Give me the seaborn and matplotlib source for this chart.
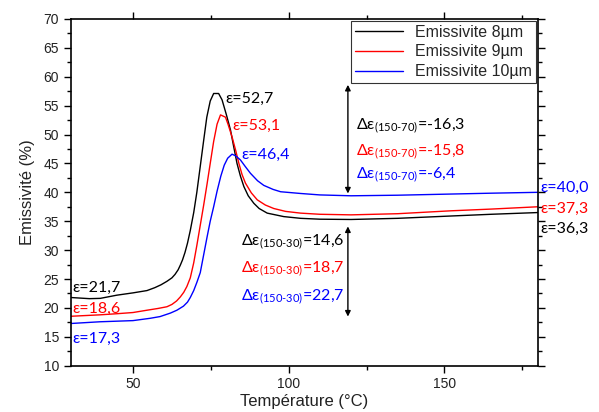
import pandas as pd
import matplotlib
matplotlib.use("Agg")
import matplotlib.pyplot as plt
import seaborn as sns
from matplotlib.ticker import MultipleLocator

# données
t_8 = [30, 33, 36, 39.5, 44.8, 50, 54.5, 57, 59, 60.9, 62.5, 63.5, 64.5, 65.2, 65.9, 66.7,
       67.5, 68.4, 69.5, 70.5, 71.6, 72.7, 73.7, 74.8, 75.9, 77.5, 78.6, 80, 81.3, 82.3,
       83.4, 84.5, 85.6, 87, 88.8, 90.5, 93.1, 98.4, 103.8, 110, 120, 135, 152, 165, 180]
e_8 = [21.8, 21.7, 21.6, 21.65, 22.2, 22.6, 23.0, 23.5, 24.0, 24.6, 25.2, 25.8, 26.6, 27.4, 28.3, 29.6,
       31.2, 33.4, 36.5, 40.0, 44.5, 49.0, 53.0, 55.8, 57.1, 57.1, 56.0, 53.4, 50.8, 48.0,
       45.0, 42.8, 41.0, 39.4, 38.1, 37.2, 36.4, 35.8, 35.5, 35.35, 35.3, 35.5, 35.9, 36.2, 36.5]

t_9 = [30, 39.4, 45, 50, 54.5, 58, 60.9, 62.5, 64, 65.2, 66.3, 67.3, 68.4, 69.5, 70.5,
       71.6, 72.7, 73.8, 74.8, 75.9, 77, 78.1, 79.7, 80.5, 81.8, 83, 84, 85, 86.1, 88, 89.9,
       92.5, 95.2, 99, 103.8, 110, 120, 135, 152, 165, 180]
e_9 = [18.55, 18.8, 19.0, 19.2, 19.6, 19.9, 20.2, 20.6, 21.2, 21.9, 22.7, 23.7, 25.2, 27.8, 30.8,
       34.3, 37.8, 41.5, 45.0, 48.8, 51.8, 53.4, 53.0, 51.8, 49.6, 47.2, 45.0, 43.1, 41.6, 39.9, 38.7,
       37.8, 37.2, 36.7, 36.4, 36.2, 36.1, 36.3, 36.8, 37.1, 37.5]

t_10 = [30, 39.4, 50, 55.5, 58.7, 62, 64.1, 66.2, 67.5, 68.4, 69.5, 70.5, 71.6, 72.7, 73.8,
        74.8, 75.9, 77, 78.2, 79.3, 80.4, 81.8, 83, 84.5, 86, 87.7, 90, 92, 95, 97.4,
        103.8, 110, 120, 135, 152, 165, 180]
e_10 = [17.3, 17.6, 17.8, 18.2, 18.5, 19.1, 19.6, 20.3, 21.0, 21.8, 23.0, 24.4, 26.1, 29.2, 32.3,
        35.0, 37.5, 40.2, 42.8, 44.7, 45.9, 46.6, 46.3, 45.6, 44.5, 43.3, 42.0, 41.2, 40.5, 40.1,
        39.8, 39.55, 39.4, 39.5, 39.7, 39.85, 40.0]

series = ["Emissivite 8µm", "Emissivite 9µm", "Emissivite 10µm"]
colors = ["black", "#ff0000", "#0000ff"]

# étiquettes epsilon
eps_labels = ["ε=52,7", "ε=53,1", "ε=46,4", "ε=21,7", "ε=18,6", "ε=17,3", "ε=40,0", "ε=37,3", "ε=36,3"]
eps_x = [79.8, 81.8, 84.7, 30.4, 30.4, 30.4, 180.8, 180.8, 180.8]
eps_y = [55.4, 50.8, 45.7, 22.8, 19.1, 14.0, 40.1, 36.4, 32.9]
eps_col = [0, 1, 2, 0, 1, 2, 2, 1, 0]

delta_sub = ["(150-70)", "(150-70)", "(150-70)", "(150-30)", "(150-30)", "(150-30)"]
delta_val = ["=-16,3", "=-15,8", "=-6,4", "=14,6", "=18,7", "=22,7"]
delta_x = [121.5, 121.5, 121.5, 84.6, 84.6, 84.6]
delta_y = [50.9, 46.5, 42.5, 30.9, 26.3, 21.4]
delta_col = [0, 1, 2, 0, 1, 2]

df = pd.concat([
    pd.DataFrame({"T": t_8, "E": e_8, "s": series[0]}),
    pd.DataFrame({"T": t_9, "E": e_9, "s": series[1]}),
    pd.DataFrame({"T": t_10, "E": e_10, "s": series[2]}),
])

sns.set_style("ticks")
plt.rcParams["font.family"] = ["Liberation Sans", "DejaVu Sans"]
plt.rcParams["mathtext.fontset"] = "custom"
plt.rcParams["mathtext.rm"] = "Lato"
plt.rcParams["mathtext.it"] = "Lato"

fig = plt.figure(figsize=(5.99, 4.12), dpi=100)
ax = fig.add_axes([0.118, 0.1124, 0.78, 0.8416])

sns.lineplot(data=df, x="T", y="E", hue="s", palette=colors, sort=False,
             estimator=None, linewidth=1, ax=ax)

ax.set_xlim(30, 180)
ax.set_ylim(10, 70)
ax.xaxis.set_major_locator(MultipleLocator(50))
ax.xaxis.set_minor_locator(MultipleLocator(25))
ax.yaxis.set_major_locator(MultipleLocator(5))
ax.yaxis.set_minor_locator(MultipleLocator(2.5))
ax.tick_params(which="both", direction="out", top=True, right=True, labelsize=10,
               width=1, colors="black", labelcolor="#222222")
ax.tick_params(which="major", length=5)
ax.tick_params(which="minor", length=3)
for sp in ax.spines.values():
    sp.set_linewidth(1.2)
    sp.set_color("black")

ax.set_xlabel("Température (°C)", fontsize=12, labelpad=2, color="#222222")
ax.set_ylabel("Emissivité (%)", fontsize=12, labelpad=6, color="#222222")

leg = ax.legend(loc="upper right", fontsize=11.5, frameon=True, fancybox=False,
                edgecolor="black", borderaxespad=0.1, handlelength=3.0,
                labelspacing=0.3, borderpad=0.25)
leg.get_frame().set_linewidth(0.8)

fam = ["Lato", "DejaVu Sans"]
for lab, x, y, c in zip(eps_labels, eps_x, eps_y, eps_col):
    ax.text(x, y, lab, color=colors[c], fontsize=11.5, family=fam, va="baseline",
            ha="left", clip_on=False)

for sub, val, x, y, c in zip(delta_sub, delta_val, delta_x, delta_y, delta_col):
    ax.text(x, y, "Δε$_{\\text{" + sub + "}}$" + val, color=colors[c], fontsize=11.5,
            family=fam, va="baseline", ha="left")

arrow = dict(arrowstyle="<|-|>", color="black", lw=1, mutation_scale=8, shrinkA=0, shrinkB=0)
ax.annotate("", xy=(119, 58.6), xytext=(119, 39.8), arrowprops=arrow)
ax.annotate("", xy=(119, 34.1), xytext=(119, 18.5), arrowprops=arrow)

fig.savefig("out.png", dpi=100)
